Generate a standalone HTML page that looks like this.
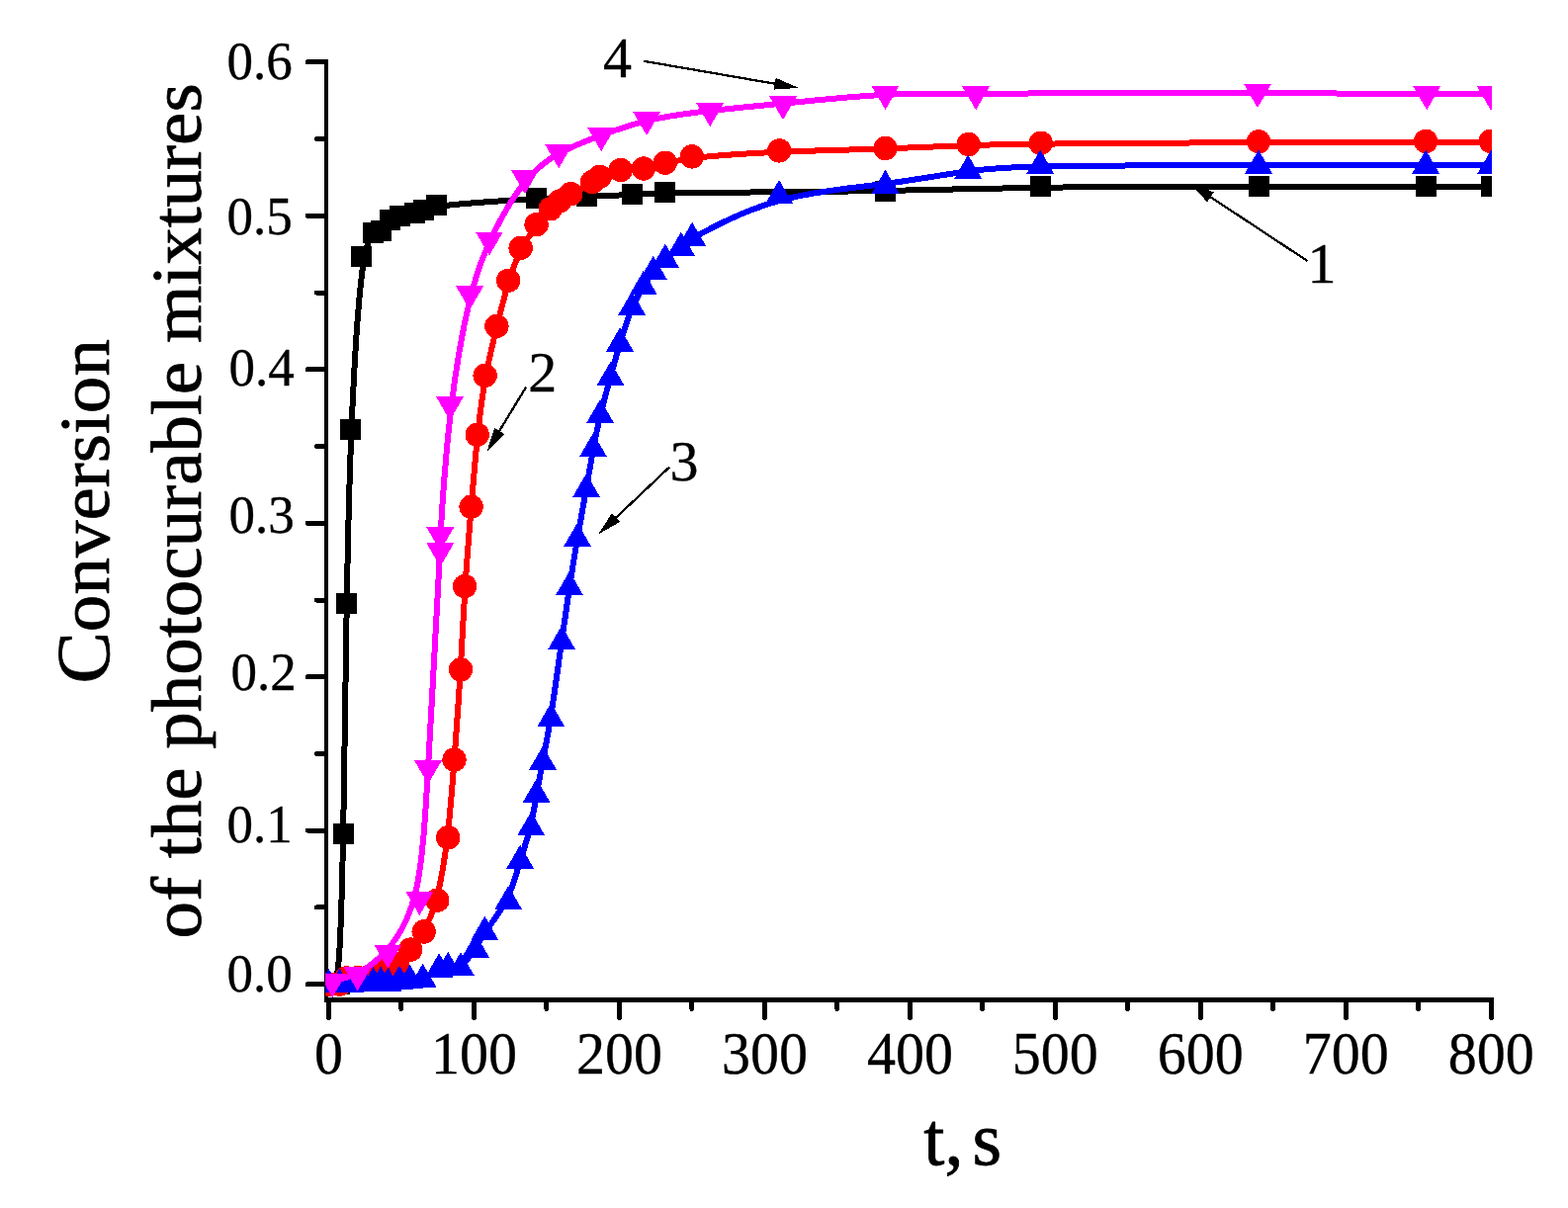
<!DOCTYPE html>
<html lang="en"><head><meta charset="utf-8"><title>Conversion of the photocurable mixtures</title>
<style>
html,body{margin:0;padding:0;background:#fff;}
body{width:1586px;height:1222px;overflow:hidden;}
svg{display:block;}
text{font-family:"Liberation Serif","DejaVu Serif",serif;fill:#000;stroke:#000;stroke-width:0.35px;stroke-linejoin:round;}
.yt{font-size:53px;}
.xt{font-size:58px;text-anchor:middle;}
.lab{font-size:58px;}
.ttl{font-size:76px;stroke-width:0.8px;}
.ax{stroke:#000;fill:none;}
</style></head><body>
<svg width="1586" height="1222" viewBox="0 0 1586 1222" shape-rendering="crispEdges">
<rect width="1586" height="1222" fill="#fff"/>
<defs><clipPath id="plot"><rect x="329" y="40" width="1180" height="969"/></clipPath></defs>
<g class="ax">
<line x1="330" y1="60" x2="330" y2="1014" stroke-width="4.2"/>
<line x1="328" y1="1011.6" x2="1510.8" y2="1011.6" stroke-width="5.2"/>
<g stroke-width="5" stroke-linecap="round">
<line x1="311.3" y1="995.6" x2="329" y2="995.6"/>
<line x1="320.4" y1="917.9" x2="329" y2="917.9"/>
<line x1="311.3" y1="840.1" x2="329" y2="840.1"/>
<line x1="320.4" y1="762.4" x2="329" y2="762.4"/>
<line x1="311.3" y1="684.7" x2="329" y2="684.7"/>
<line x1="320.4" y1="607.0" x2="329" y2="607.0"/>
<line x1="311.3" y1="529.2" x2="329" y2="529.2"/>
<line x1="320.4" y1="451.5" x2="329" y2="451.5"/>
<line x1="311.3" y1="373.8" x2="329" y2="373.8"/>
<line x1="320.4" y1="296.0" x2="329" y2="296.0"/>
<line x1="311.3" y1="218.3" x2="329" y2="218.3"/>
<line x1="320.4" y1="140.6" x2="329" y2="140.6"/>
<line x1="311.3" y1="62.8" x2="329" y2="62.8"/>
<line x1="332.4" y1="1012" x2="332.4" y2="1029.4"/>
<line x1="405.9" y1="1012" x2="405.9" y2="1020.4"/>
<line x1="479.4" y1="1012" x2="479.4" y2="1029.4"/>
<line x1="552.9" y1="1012" x2="552.9" y2="1020.4"/>
<line x1="626.4" y1="1012" x2="626.4" y2="1029.4"/>
<line x1="699.9" y1="1012" x2="699.9" y2="1020.4"/>
<line x1="773.4" y1="1012" x2="773.4" y2="1029.4"/>
<line x1="846.9" y1="1012" x2="846.9" y2="1020.4"/>
<line x1="920.4" y1="1012" x2="920.4" y2="1029.4"/>
<line x1="993.8" y1="1012" x2="993.8" y2="1020.4"/>
<line x1="1067.3" y1="1012" x2="1067.3" y2="1029.4"/>
<line x1="1140.8" y1="1012" x2="1140.8" y2="1020.4"/>
<line x1="1214.3" y1="1012" x2="1214.3" y2="1029.4"/>
<line x1="1287.8" y1="1012" x2="1287.8" y2="1020.4"/>
<line x1="1361.3" y1="1012" x2="1361.3" y2="1029.4"/>
<line x1="1434.8" y1="1012" x2="1434.8" y2="1020.4"/>
<line x1="1508.3" y1="1012" x2="1508.3" y2="1029.4"/>
</g></g>
<g class="yt">
<text transform="translate(229.4 80.4) scale(1 1.03)">0.6</text>
<text transform="translate(229.4 237.3) scale(1 1.03)">0.5</text>
<text transform="translate(231.4 390.1) scale(1 1.03)">0.4</text>
<text transform="translate(231.4 539.3) scale(1 1.03)">0.3</text>
<text transform="translate(233.5 697.5) scale(1 1.03)">0.2</text>
<text transform="translate(229.4 852.4) scale(1 1.03)">0.1</text>
<text transform="translate(229.4 1003.3) scale(1 1.03)">0.0</text>
</g>
<g class="xt">
<text transform="translate(332.4 1085.7) scale(1 1.06)">0</text>
<text transform="translate(479.4 1085.7) scale(1 1.06)">100</text>
<text transform="translate(626.4 1085.7) scale(1 1.06)">200</text>
<text transform="translate(773.4 1085.7) scale(1 1.06)">300</text>
<text transform="translate(920.4 1085.7) scale(1 1.06)">400</text>
<text transform="translate(1067.3 1085.7) scale(1 1.06)">500</text>
<text transform="translate(1214.3 1085.7) scale(1 1.06)">600</text>
<text transform="translate(1361.3 1085.7) scale(1 1.06)">700</text>
<text transform="translate(1508.3 1085.7) scale(1 1.06)">800</text>
</g>
<text class="ttl" x="934.3" y="1178.4" style="word-spacing:-10px">t, s</text>
<text class="ttl" transform="translate(109.6 691.6) rotate(-90) scale(0.988 0.955)"><tspan style="font-size:79.6px">C</tspan>onversion</text>
<text class="ttl" transform="translate(203.3 949.5) rotate(-90) scale(0.988 0.955)">of the photocurable mixtures</text>
<g clip-path="url(#plot)">
<g class="s1" fill="#000000">
<path d="M332.40 996.00 C332.40 996.00 332.40 996.00 334.25 997.06 C336.09 998.11 339.78 1000.23 342.29 975.42 C344.80 950.61 346.12 898.89 347.29 833.27 C348.45 767.65 349.45 688.14 350.60 619.45 C351.74 550.75 353.03 492.86 355.53 433.62 C358.03 374.38 361.74 313.77 365.66 280.44 C369.59 247.11 373.73 241.06 377.11 237.91 C380.48 234.76 383.08 234.52 385.75 232.45 C388.43 230.39 391.17 226.50 394.29 223.91 C397.41 221.33 400.91 220.04 405.25 218.90 C409.59 217.77 414.77 216.78 418.81 215.81 C422.85 214.83 425.74 213.86 428.76 212.54 C431.77 211.22 434.90 209.55 454.24 207.52 C473.58 205.48 509.13 203.09 535.11 201.61 C561.10 200.13 577.52 199.57 593.34 198.95 C609.16 198.34 624.37 197.67 636.19 196.98 C648.00 196.29 656.41 195.58 699.50 195.05 C742.59 194.53 820.36 194.19 884.55 193.16 C948.74 192.13 999.35 190.42 1062.19 189.59 C1125.02 188.77 1200.07 188.83 1266.21 188.87 C1332.35 188.90 1389.58 188.90 1428.46 188.90 C1467.34 188.90 1487.87 188.90 1498.14 188.90 C1508.40 188.90 1508.40 188.90 1508.40 188.90" fill="none" stroke="#000000" stroke-width="6.0" stroke-linejoin="round"/>
<rect x="321.9" y="985.1" width="21.0" height="21.0"/>
<rect x="332.7" y="985.1" width="21.0" height="21.0"/>
<rect x="336.9" y="832.9" width="21.0" height="21.0"/>
<rect x="340.0" y="600.1" width="21.0" height="21.0"/>
<rect x="344.1" y="424.1" width="21.0" height="21.0"/>
<rect x="355.0" y="248.6" width="21.0" height="21.0"/>
<rect x="367.2" y="225.0" width="21.0" height="21.0"/>
<rect x="375.2" y="223.0" width="21.0" height="21.0"/>
<rect x="383.5" y="212.0" width="21.0" height="21.0"/>
<rect x="394.1" y="207.9" width="21.0" height="21.0"/>
<rect x="409.2" y="204.9" width="21.0" height="21.0"/>
<rect x="418.3" y="201.9" width="21.0" height="21.0"/>
<rect x="431.2" y="196.9" width="21.0" height="21.0"/>
<rect x="532.1" y="190.0" width="21.0" height="21.0"/>
<rect x="583.2" y="188.1" width="21.0" height="21.0"/>
<rect x="628.6" y="186.1" width="21.0" height="21.0"/>
<rect x="662.2" y="184.0" width="21.0" height="21.0"/>
<rect x="884.9" y="182.8" width="21.0" height="21.0"/>
<rect x="1042.1" y="178.0" width="21.0" height="21.0"/>
<rect x="1262.5" y="178.0" width="21.0" height="21.0"/>
<rect x="1432.0" y="178.0" width="21.0" height="21.0"/>
<rect x="1497.9" y="178.0" width="21.0" height="21.0"/>
</g>
<g class="s2" fill="#ff0000">
<path d="M332.50 996.40 C332.50 996.40 332.50 996.40 334.36 996.44 C336.23 996.49 339.95 996.57 342.88 995.50 C345.81 994.42 347.95 992.19 351.05 991.06 C354.15 989.93 358.21 989.90 362.36 989.56 C366.51 989.22 370.74 988.57 375.06 987.41 C379.38 986.24 383.78 984.56 388.24 982.59 C392.69 980.62 397.19 978.37 401.71 974.81 C406.23 971.26 410.77 966.41 415.27 961.03 C419.77 955.66 424.23 949.77 428.75 941.64 C433.27 933.52 437.84 923.17 441.96 907.30 C446.07 891.42 449.73 870.03 452.58 846.20 C455.42 822.36 457.46 796.09 459.58 767.62 C461.69 739.15 463.90 708.48 465.65 679.13 C467.40 649.79 468.70 621.77 470.45 594.31 C472.21 566.86 474.41 539.97 476.52 514.34 C478.62 488.71 480.62 464.33 482.93 442.20 C485.23 420.07 487.83 400.18 491.13 381.96 C494.42 363.74 498.41 347.19 502.37 331.15 C506.32 315.11 510.25 299.58 514.26 286.34 C518.27 273.10 522.36 262.16 527.11 252.76 C531.86 243.37 537.27 235.52 542.34 228.95 C547.42 222.37 552.16 217.07 556.03 213.17 C559.91 209.27 562.91 206.77 566.22 204.35 C569.53 201.92 573.14 199.56 578.77 196.28 C584.40 193.01 592.05 188.81 596.95 185.89 C601.84 182.97 603.99 181.31 608.66 179.31 C613.33 177.30 620.52 174.94 627.99 173.58 C635.46 172.21 643.21 171.85 650.68 170.67 C658.16 169.49 665.38 167.51 673.09 165.46 C680.80 163.41 689.02 161.30 708.18 159.22 C727.33 157.14 757.43 155.10 790.63 153.71 C823.83 152.32 860.15 151.59 892.24 150.53 C924.33 149.47 952.19 148.08 977.21 147.19 C1002.23 146.29 1024.40 145.90 1073.58 145.45 C1122.76 144.99 1198.94 144.47 1265.58 144.17 C1332.22 143.86 1389.31 143.77 1428.11 143.73 C1466.90 143.69 1487.40 143.70 1497.65 143.70 C1507.90 143.70 1507.90 143.70 1507.90 143.70" fill="none" stroke="#ff0000" stroke-width="6.0" stroke-linejoin="round"/>
<circle cx="332.5" cy="995.6" r="12.2"/>
<circle cx="343.5" cy="995.6" r="12.2"/>
<circle cx="350.3" cy="989.4" r="12.2"/>
<circle cx="362.3" cy="989.0" r="12.2"/>
<circle cx="375.0" cy="987.0" r="12.2"/>
<circle cx="388.2" cy="982.0" r="12.2"/>
<circle cx="401.7" cy="975.0" r="12.2"/>
<circle cx="415.3" cy="960.6" r="12.2"/>
<circle cx="428.7" cy="942.5" r="12.2"/>
<circle cx="442.3" cy="910.7" r="12.2"/>
<circle cx="453.2" cy="847.2" r="12.2"/>
<circle cx="459.5" cy="768.5" r="12.2"/>
<circle cx="466.0" cy="677.3" r="12.2"/>
<circle cx="470.1" cy="593.1" r="12.2"/>
<circle cx="476.6" cy="512.6" r="12.2"/>
<circle cx="482.7" cy="439.7" r="12.2"/>
<circle cx="490.6" cy="379.9" r="12.2"/>
<circle cx="502.4" cy="330.0" r="12.2"/>
<circle cx="514.2" cy="283.8" r="12.2"/>
<circle cx="526.6" cy="250.8" r="12.2"/>
<circle cx="542.6" cy="227.2" r="12.2"/>
<circle cx="556.7" cy="211.3" r="12.2"/>
<circle cx="566.0" cy="203.5" r="12.2"/>
<circle cx="577.2" cy="196.2" r="12.2"/>
<circle cx="599.1" cy="184.1" r="12.2"/>
<circle cx="606.7" cy="178.8" r="12.2"/>
<circle cx="627.8" cy="172.0" r="12.2"/>
<circle cx="650.9" cy="170.5" r="12.2"/>
<circle cx="672.8" cy="164.7" r="12.2"/>
<circle cx="699.8" cy="158.4" r="12.2"/>
<circle cx="788.3" cy="152.4" r="12.2"/>
<circle cx="895.5" cy="150.0" r="12.2"/>
<circle cx="979.6" cy="146.0" r="12.2"/>
<circle cx="1052.7" cy="144.7" r="12.2"/>
<circle cx="1273.0" cy="143.2" r="12.2"/>
<circle cx="1442.1" cy="142.9" r="12.2"/>
<circle cx="1507.9" cy="142.9" r="12.2"/>
</g>
<g class="s3" fill="#0000ff">
<path d="M332.40 995.30 C332.40 995.30 332.40 995.30 334.25 995.30 C336.10 995.30 339.80 995.30 343.47 995.31 C347.14 995.31 350.78 995.33 354.80 995.16 C358.82 994.99 363.22 994.63 367.09 994.38 C370.95 994.12 374.27 993.97 377.19 993.74 C380.10 993.51 382.60 993.21 385.08 993.35 C387.55 993.49 389.99 994.07 393.15 993.96 C396.30 993.85 400.17 993.05 403.84 992.48 C407.52 991.90 411.01 991.55 414.93 991.29 C418.85 991.03 423.21 990.86 428.19 988.92 C433.18 986.97 438.79 983.25 443.04 981.19 C447.28 979.13 450.17 978.73 453.75 978.72 C457.33 978.71 461.62 979.10 466.32 976.04 C471.02 972.98 476.13 966.47 480.09 960.36 C484.06 954.25 486.87 948.55 492.45 940.56 C498.03 932.57 506.36 922.31 512.44 910.17 C518.51 898.02 522.32 884.00 526.11 871.43 C529.90 858.85 533.67 847.71 536.41 836.62 C539.14 825.52 540.85 814.46 542.77 803.47 C544.68 792.48 546.80 781.56 549.24 768.98 C551.68 756.40 554.44 742.17 557.65 721.63 C560.87 701.10 564.55 674.27 567.68 651.82 C570.81 629.37 573.40 611.32 576.03 594.15 C578.65 576.98 581.30 560.71 584.17 544.17 C587.03 527.63 590.11 510.82 592.79 495.64 C595.46 480.45 597.72 466.89 600.02 454.49 C602.32 442.10 604.64 430.88 607.56 418.89 C610.49 406.89 614.01 394.12 617.33 382.03 C620.66 369.93 623.77 358.51 627.37 346.56 C630.97 334.61 635.04 322.12 639.04 312.48 C643.03 302.85 646.95 296.06 650.55 290.15 C654.15 284.23 657.43 279.20 661.08 274.69 C664.72 270.18 668.73 266.19 673.46 262.16 C678.19 258.13 683.65 254.07 687.67 250.65 C691.70 247.23 694.30 244.45 710.67 235.49 C727.03 226.53 757.16 211.39 790.43 202.36 C823.69 193.33 860.09 190.42 892.15 186.34 C924.21 182.26 951.93 177.02 976.85 173.60 C1001.78 170.18 1023.91 168.59 1073.16 167.82 C1122.41 167.06 1198.78 167.13 1265.51 167.17 C1332.23 167.20 1389.31 167.20 1428.17 167.20 C1467.02 167.20 1487.66 167.20 1497.98 167.20 C1508.30 167.20 1508.30 167.20 1508.30 167.20" fill="none" stroke="#0000ff" stroke-width="6.0" stroke-linejoin="round"/>
<path d="M332.4 979.7 l14.0 24.2 h-28.0 z"/>
<path d="M343.5 979.7 l14.0 24.2 h-28.0 z"/>
<path d="M354.5 979.7 l14.0 24.2 h-28.0 z"/>
<path d="M367.5 978.7 l14.0 24.2 h-28.0 z"/>
<path d="M377.5 978.2 l14.0 24.2 h-28.0 z"/>
<path d="M385.1 977.4 l14.0 24.2 h-28.0 z"/>
<path d="M392.6 978.9 l14.0 24.2 h-28.0 z"/>
<path d="M404.0 976.7 l14.0 24.2 h-28.0 z"/>
<path d="M414.6 975.6 l14.0 24.2 h-28.0 z"/>
<path d="M427.7 974.7 l14.0 24.2 h-28.0 z"/>
<path d="M444.1 964.3 l14.0 24.2 h-28.0 z"/>
<path d="M453.2 962.8 l14.0 24.2 h-28.0 z"/>
<path d="M466.0 963.1 l14.0 24.2 h-28.0 z"/>
<path d="M481.0 944.4 l14.0 24.2 h-28.0 z"/>
<path d="M490.3 926.7 l14.0 24.2 h-28.0 z"/>
<path d="M514.2 896.0 l14.0 24.2 h-28.0 z"/>
<path d="M526.1 854.7 l14.0 24.2 h-28.0 z"/>
<path d="M537.2 821.0 l14.0 24.2 h-28.0 z"/>
<path d="M542.6 787.8 l14.0 24.2 h-28.0 z"/>
<path d="M549.0 754.6 l14.0 24.2 h-28.0 z"/>
<path d="M557.3 710.9 l14.0 24.2 h-28.0 z"/>
<path d="M568.1 632.8 l14.0 24.2 h-28.0 z"/>
<path d="M576.0 577.9 l14.0 24.2 h-28.0 z"/>
<path d="M584.0 528.8 l14.0 24.2 h-28.0 z"/>
<path d="M593.1 478.8 l14.0 24.2 h-28.0 z"/>
<path d="M600.0 438.0 l14.0 24.2 h-28.0 z"/>
<path d="M607.1 403.9 l14.0 24.2 h-28.0 z"/>
<path d="M617.5 365.9 l14.0 24.2 h-28.0 z"/>
<path d="M627.0 331.4 l14.0 24.2 h-28.0 z"/>
<path d="M639.1 294.7 l14.0 24.2 h-28.0 z"/>
<path d="M650.8 273.9 l14.0 24.2 h-28.0 z"/>
<path d="M660.8 258.7 l14.0 24.2 h-28.0 z"/>
<path d="M672.9 246.6 l14.0 24.2 h-28.0 z"/>
<path d="M688.9 234.5 l14.0 24.2 h-28.0 z"/>
<path d="M700.1 224.7 l14.0 24.2 h-28.0 z"/>
<path d="M788.1 182.0 l14.0 24.2 h-28.0 z"/>
<path d="M895.5 171.7 l14.0 24.2 h-28.0 z"/>
<path d="M979.2 156.6 l14.0 24.2 h-28.0 z"/>
<path d="M1052.2 151.6 l14.0 24.2 h-28.0 z"/>
<path d="M1273.0 151.6 l14.0 24.2 h-28.0 z"/>
<path d="M1442.1 151.6 l14.0 24.2 h-28.0 z"/>
<path d="M1508.3 151.6 l14.0 24.2 h-28.0 z"/>
</g>
<g class="s4" fill="#ff00ff">
<path d="M336.30 992.50 C336.30 992.50 336.30 992.50 340.48 991.53 C344.66 990.56 353.02 988.62 362.34 983.97 C371.66 979.31 381.95 971.95 392.62 959.66 C403.29 947.36 414.33 930.13 421.10 899.42 C427.87 868.71 430.36 824.52 433.76 763.75 C437.17 702.98 441.49 625.64 443.50 586.54 C445.51 547.45 445.20 546.59 446.66 523.20 C448.12 499.81 451.34 453.88 456.38 412.05 C461.42 370.21 468.26 332.47 474.87 304.90 C481.48 277.33 487.85 259.92 497.18 240.50 C506.51 221.07 518.79 199.62 530.56 184.77 C542.33 169.93 553.58 161.68 566.42 154.76 C579.25 147.84 593.66 142.25 608.42 136.74 C623.17 131.24 638.25 125.82 656.54 121.65 C674.83 117.48 696.31 114.54 719.21 111.97 C742.12 109.39 766.44 107.17 796.14 104.24 C825.84 101.31 860.92 97.69 892.30 96.00 C923.68 94.32 951.36 94.59 1014.82 94.55 C1078.28 94.51 1177.51 94.16 1255.60 94.18 C1333.70 94.19 1390.67 94.56 1429.21 94.78 C1467.76 94.99 1487.88 95.04 1497.94 95.07 C1508.00 95.10 1508.00 95.10 1508.00 95.10" fill="none" stroke="#ff00ff" stroke-width="6.0" stroke-linejoin="round"/>
<path d="M336.3 1009.0 l14.0 -24.2 h-28.0 z"/>
<path d="M361.6 1002.5 l14.0 -24.2 h-28.0 z"/>
<path d="M392.3 979.8 l14.0 -24.2 h-28.0 z"/>
<path d="M424.4 926.1 l14.0 -24.2 h-28.0 z"/>
<path d="M433.0 793.2 l14.0 -24.2 h-28.0 z"/>
<path d="M445.3 573.3 l14.0 -24.2 h-28.0 z"/>
<path d="M445.3 557.4 l14.0 -24.2 h-28.0 z"/>
<path d="M455.0 425.3 l14.0 -24.2 h-28.0 z"/>
<path d="M475.1 313.6 l14.0 -24.2 h-28.0 z"/>
<path d="M494.9 258.7 l14.0 -24.2 h-28.0 z"/>
<path d="M531.0 196.2 l14.0 -24.2 h-28.0 z"/>
<path d="M565.2 170.3 l14.0 -24.2 h-28.0 z"/>
<path d="M608.2 153.2 l14.0 -24.2 h-28.0 z"/>
<path d="M654.1 137.2 l14.0 -24.2 h-28.0 z"/>
<path d="M718.2 128.2 l14.0 -24.2 h-28.0 z"/>
<path d="M792.0 121.3 l14.0 -24.2 h-28.0 z"/>
<path d="M895.5 111.0 l14.0 -24.2 h-28.0 z"/>
<path d="M987.1 111.3 l14.0 -24.2 h-28.0 z"/>
<path d="M1272.0 109.1 l14.0 -24.2 h-28.0 z"/>
<path d="M1443.2 111.4 l14.0 -24.2 h-28.0 z"/>
<path d="M1508.0 111.6 l14.0 -24.2 h-28.0 z"/>
</g>
</g>
<g class="lab">
<text x="610" y="78">4</text>
<text x="1322.6" y="286">1</text>
<text x="534.3" y="396.4">2</text>
<text x="677.5" y="486.3">3</text>
</g>
<line x1="651.2" y1="61.8" x2="783.7" y2="84.7" stroke="#000" stroke-width="2.3"/><path d="M807.8 88.9 L782.6 90.6 L784.7 78.8 z" fill="#000"/>
<line x1="1322.5" y1="264.0" x2="1224.5" y2="199.4" stroke="#000" stroke-width="2.3"/><path d="M1204.0 185.9 L1227.8 194.4 L1221.2 204.4 z" fill="#000"/>
<line x1="532.0" y1="391.7" x2="505.2" y2="435.9" stroke="#000" stroke-width="2.3"/><path d="M492.5 456.8 L500.1 432.7 L510.3 439.0 z" fill="#000"/>
<line x1="677.1" y1="472.6" x2="623.0" y2="523.6" stroke="#000" stroke-width="2.3"/><path d="M605.2 540.4 L618.9 519.2 L627.1 528.0 z" fill="#000"/>
</svg></body></html>
